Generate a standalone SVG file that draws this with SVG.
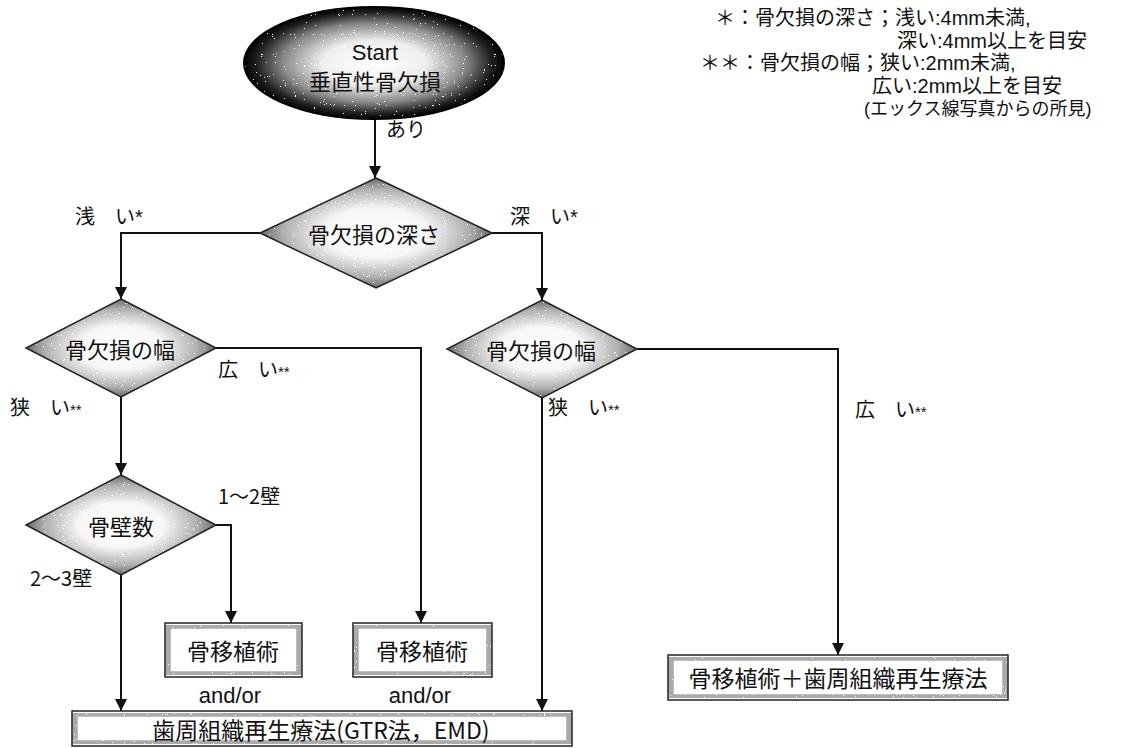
<svg xmlns="http://www.w3.org/2000/svg" width="1131" height="748" viewBox="0 0 1131 748">
<style>
  .t { font-family: "Noto Sans CJK JP", "Liberation Sans", sans-serif; fill: #111; }
  .lbl { font-size: 20px; }
  .node { font-size: 22px; text-anchor: middle; dominant-baseline: central; }
  .box { font-size: 23px; }
  .leg { font-family: "Liberation Sans", "Noto Sans CJK JP", sans-serif; font-size: 20px; fill: #111; }
  .leg.small { font-size: 18px; }
  .en { font-family: "Liberation Sans", "Noto Sans CJK JP", sans-serif; }
  .edge { fill: none; stroke: #111; stroke-width: 2; }
  .outline { fill: none; stroke: #222; stroke-width: 1.5; }
  .frame { fill: none; stroke: #aaa; stroke-width: 5; }
</style>
<defs>
  <radialGradient id="gEll" cx="0.5" cy="0.5" r="0.5">
    <stop offset="0" stop-color="#ffffff"/>
    <stop offset="0.4" stop-color="#eeeeee"/>
    <stop offset="0.7" stop-color="#8a8a8a"/>
    <stop offset="0.9" stop-color="#222222"/>
    <stop offset="1" stop-color="#000000"/>
  </radialGradient>
  <radialGradient id="gDia" cx="0.5" cy="0.5" r="0.5">
    <stop offset="0" stop-color="#ffffff"/>
    <stop offset="0.45" stop-color="#f6f6f6"/>
    <stop offset="0.8" stop-color="#b0b0b0"/>
    <stop offset="1" stop-color="#6a6a6a"/>
  </radialGradient>
  <filter id="grain" x="-2%" y="-2%" width="104%" height="104%">
    <feTurbulence type="fractalNoise" baseFrequency="1.1" numOctaves="1" seed="4" result="n"/>
    <feColorMatrix in="n" type="saturate" values="0" result="g"/>
    <feComponentTransfer in="g" result="bin">
      <feFuncR type="discrete" tableValues="0 0 1"/>
      <feFuncG type="discrete" tableValues="0 0 1"/>
      <feFuncB type="discrete" tableValues="0 0 1"/>
      <feFuncA type="linear" slope="0" intercept="1"/>
    </feComponentTransfer>
    <feBlend in="SourceGraphic" in2="bin" mode="screen" result="b"/>
    <feComposite in="b" in2="SourceGraphic" operator="in"/>
  </filter>
  <marker id="arr" viewBox="0 0 10 10" refX="10" refY="5" markerWidth="12" markerHeight="12" markerUnits="userSpaceOnUse" orient="auto">
    <path d="M0,0 L10,5 L0,10 Z" fill="#111"/>
  </marker>
</defs>

<!-- connectors -->
<g id="connectors">
  <path class="edge" d="M375,119 V178" marker-end="url(#arr)"/>
  <path class="edge" d="M260,233 H121 V299" marker-end="url(#arr)"/>
  <path class="edge" d="M492,233 H542 V300" marker-end="url(#arr)"/>
  <path class="edge" d="M121,397 V475" marker-end="url(#arr)"/>
  <path class="edge" d="M216,348 H421 V623" marker-end="url(#arr)"/>
  <path class="edge" d="M216,525 H231 V623" marker-end="url(#arr)"/>
  <path class="edge" d="M121,575 V711" marker-end="url(#arr)"/>
  <path class="edge" d="M542,398 V711" marker-end="url(#arr)"/>
  <path class="edge" d="M637,349 H838 V655" marker-end="url(#arr)"/>
</g>

<!-- edge labels -->
<g id="edge-labels" class="t lbl">
  <text x="386" y="137">あり</text>
  <text x="75" y="224">浅　い<tspan class="en">*</tspan></text>
  <text x="510" y="224">深　い<tspan class="en">*</tspan></text>
  <text x="218" y="377">広　い<tspan class="en" font-size="15">**</tspan></text>
  <text x="10" y="415">狭　い<tspan class="en" font-size="15">**</tspan></text>
  <text x="548" y="415">狭　い<tspan class="en" font-size="15">**</tspan></text>
  <text x="855" y="417">広　い<tspan class="en" font-size="15">**</tspan></text>
  <text x="218" y="504">1〜2壁</text>
  <text x="30" y="586">2〜3壁</text>
  <text class="en" x="230" y="703" text-anchor="middle" font-size="22">and/or</text>
  <text class="en" x="420" y="703" text-anchor="middle" font-size="22">and/or</text>
</g>

<!-- nodes -->
<g id="start">
  <ellipse cx="374" cy="63" rx="130" ry="56" fill="url(#gEll)" filter="url(#grain)"/>
  <ellipse cx="374" cy="63" rx="130" ry="56" fill="none" stroke="#000" stroke-width="2"/>
  <text class="t node en" x="375" y="52">Start</text>
  <text class="t node" x="375" y="80">垂直性骨欠損</text>
</g>

<g id="depth">
  <polygon points="376,178 492,233 376,288 260,233" fill="url(#gDia)" filter="url(#grain)"/>
  <polygon class="outline" points="376,178 492,233 376,288 260,233"/>
  <text class="t node" x="374" y="233">骨欠損の深さ</text>
</g>

<g id="width-left">
  <polygon points="121,299 216,348 121,397 26,348" fill="url(#gDia)" filter="url(#grain)"/>
  <polygon class="outline" points="121,299 216,348 121,397 26,348"/>
  <text class="t node" x="120" y="348">骨欠損の幅</text>
</g>

<g id="width-right">
  <polygon points="542,300 637,349 542,398 447,349" fill="url(#gDia)" filter="url(#grain)"/>
  <polygon class="outline" points="542,300 637,349 542,398 447,349"/>
  <text class="t node" x="541" y="349">骨欠損の幅</text>
</g>

<g id="walls">
  <polygon points="121,475 216,525 121,575 26,525" fill="url(#gDia)" filter="url(#grain)"/>
  <polygon class="outline" points="121,475 216,525 121,575 26,525"/>
  <text class="t node" x="121" y="525">骨壁数</text>
</g>

<g id="graft-left">
  <rect x="165" y="623" width="137" height="54" fill="#fff"/>
  <rect class="frame" x="168" y="626" width="131" height="48" filter="url(#grain)"/>
  <rect class="outline" x="165" y="623" width="137" height="54"/>
  <text class="t node box" x="233" y="650">骨移植術</text>
</g>

<g id="graft-mid">
  <rect x="353" y="623" width="139" height="54" fill="#fff"/>
  <rect class="frame" x="356" y="626" width="133" height="48" filter="url(#grain)"/>
  <rect class="outline" x="353" y="623" width="139" height="54"/>
  <text class="t node box" x="422" y="650">骨移植術</text>
</g>

<g id="gtr">
  <rect x="72" y="711" width="500" height="35" fill="#fff"/>
  <rect class="frame" x="75" y="714" width="494" height="29" filter="url(#grain)"/>
  <rect class="outline" x="72" y="711" width="500" height="35"/>
  <text class="t node box" x="321" y="729">歯周組織再生療法(GTR法，EMD)</text>
</g>

<g id="graft-gtr">
  <rect x="668" y="655" width="340" height="45" fill="#fff"/>
  <rect class="frame" x="671" y="658" width="334" height="39" filter="url(#grain)"/>
  <rect class="outline" x="668" y="655" width="340" height="45"/>
  <text class="t node box" x="838" y="677">骨移植術＋歯周組織再生療法</text>
</g>

<!-- legend -->
<g id="legend">
  <text class="leg" x="715" y="25">＊：骨欠損の深さ；浅い:4mm未満,</text>
  <text class="leg" x="897" y="47.5">深い:4mm以上を目安</text>
  <text class="leg" x="700" y="70">＊＊：骨欠損の幅；狭い:2mm未満,</text>
  <text class="leg" x="872" y="92.5">広い:2mm以上を目安</text>
  <text class="leg small" x="864" y="115">(エックス線写真からの所見)</text>
</g>
</svg>
